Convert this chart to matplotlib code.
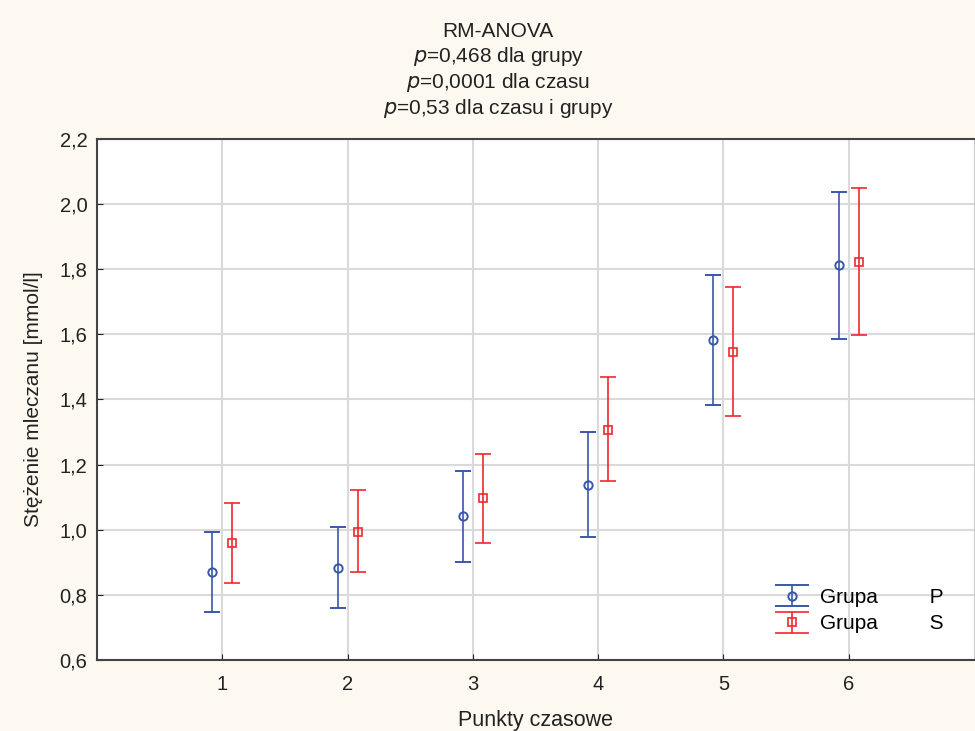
import numpy as np
import matplotlib.pyplot as plt
from matplotlib.ticker import FuncFormatter
from matplotlib.legend_handler import HandlerErrorbar

plt.rcParams['font.family'] = ['Liberation Sans', 'DejaVu Sans']

# punkty czasowe i średnie stężenia mleczanu z przedziałami
punkty = np.array([1, 2, 3, 4, 5, 6])
p_srednia = np.array([0.870, 0.883, 1.042, 1.137, 1.583, 1.813])
p_dol = np.array([0.747, 0.760, 0.901, 0.978, 1.383, 1.586])
p_gora = np.array([0.993, 1.008, 1.180, 1.300, 1.782, 2.037])
s_srednia = np.array([0.959, 0.993, 1.097, 1.306, 1.546, 1.822])
s_dol = np.array([0.836, 0.870, 0.959, 1.150, 1.349, 1.598])
s_gora = np.array([1.082, 1.122, 1.233, 1.469, 1.745, 2.049])

tlo = '#fdf9f0'
niebieski = '#3a57a8'
czerwony = '#f0282d'
tekst = '#222222'

fig = plt.figure(figsize=(9.75, 7.31), dpi=100, facecolor=tlo)
ax = fig.add_axes([0.0995, 0.097, 0.8995, 0.713])
ax.set_facecolor('white')

ax.errorbar(punkty - 0.08, p_srednia,
            yerr=[p_srednia - p_dol, p_gora - p_srednia],
            fmt='o', color=niebieski, mfc='none', ms=6, mew=1.4,
            elinewidth=1.2, capsize=5.5, capthick=1.2, label='Grupa         P')
ax.errorbar(punkty + 0.08, s_srednia,
            yerr=[s_srednia - s_dol, s_gora - s_srednia],
            fmt='s', color=czerwony, mfc='none', ms=6, mew=1.2,
            elinewidth=1.2, capsize=5.5, capthick=1.2, label='Grupa         S')

ax.set_xlim(0, 7)
ax.set_ylim(0.6, 2.2)
ax.set_xticks(punkty)
ax.set_yticks(np.arange(0.6, 2.21, 0.2))
ax.yaxis.set_major_formatter(FuncFormatter(lambda v, _: f'{v:.1f}'.replace('.', ',')))
ax.grid(True, color='#dadada', linewidth=1.5)
ax.set_axisbelow(True)
ax.tick_params(direction='in', length=4, labelsize=14.5, colors=tekst)
ax.tick_params(axis='x', pad=11)
ax.tick_params(axis='y', pad=7)

for s in ['left', 'bottom', 'top']:
    ax.spines[s].set_color('#444444')
    ax.spines[s].set_linewidth(1.5)
ax.spines['right'].set_color('#cccccc')

ax.set_xlabel('Punkty czasowe', fontsize=15.5, color=tekst, labelpad=11)
ax.set_ylabel('Stężenie mleczanu [mmol/l]', fontsize=15, color=tekst, labelpad=12)

fig.text(0.511, 0.9695, 'RM-ANOVA\n$p$=0,468 dla grupy\n$p$=0,0001 dla czasu\n$p$=0,53 dla czasu i grupy',
         ha='center', va='top', fontsize=15, color=tekst, linespacing=1.2)


# w legendzie szerokie wąsy na całą długość symbolu
def szerokie_wasy(nowy, oryginal):
    nowy.update_from(oryginal)
    if hasattr(oryginal, 'get_marker') and oryginal.get_marker() == '_':
        nowy.set_markersize(24)


uchwyt = HandlerErrorbar(yerr_size=0.5, update_func=szerokie_wasy)
ax.legend(loc='upper left', bbox_to_anchor=(0.774, 0.138), frameon=False,
          borderaxespad=0, borderpad=0, fontsize=15, handlelength=1.6,
          handletextpad=0.5, labelspacing=0.35,
          handler_map={type(ax.containers[0]): uchwyt})

fig.savefig('out.png', dpi=100, facecolor=tlo)
